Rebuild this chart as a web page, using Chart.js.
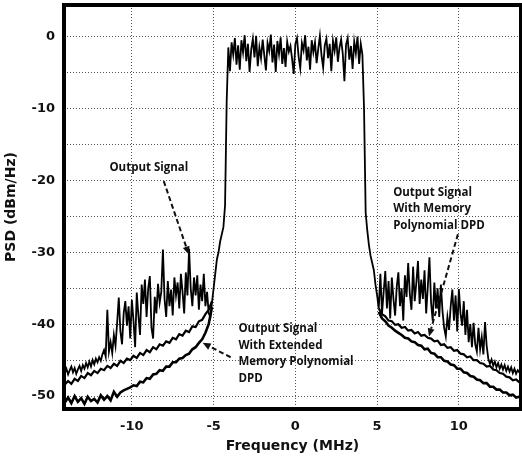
<!DOCTYPE html>
<html lang="en">
<head>
<meta charset="utf-8">
<title>PSD</title>
<script src="https://cdn.jsdelivr.net/npm/chart.js@4.4.1/dist/chart.umd.min.js"></script>
<style>
  html, body { margin: 0; padding: 0; background: #fff; }
  #wrap { width: 522px; height: 461px; position: relative; }
</style>
</head>
<body>
<div id="wrap"><canvas id="psdChart"></canvas></div>
<script>
// measured output signal, 0.1 MHz grid starting at -14.1 MHz
const mainStart = -14.1, mainStep = 0.1;
// -14.1 .. -4.5 MHz (lower adjacent channel)
const psdLeft = [
  -46.8, -46.2, -47.0, -46.4, -45.9, -46.7, -46.1, -46.9, -46.3, -45.8,
  -46.5, -45.7, -46.2, -45.4, -46.0, -45.2, -45.9, -45.0, -45.6, -44.8,
  -45.3, -44.6, -45.1, -44.2, -43.6, -44.5, -38.0, -43.8, -42.5, -44.0,
  -41.5, -43.0, -39.8, -36.3, -41.0, -42.8, -38.5, -36.8, -40.2, -37.5,
  -42.0, -36.6, -39.5, -43.2, -35.6, -38.8, -41.5, -34.5, -37.2, -33.8,
  -39.0, -35.0, -33.3, -40.5, -42.0, -36.2, -38.5, -34.4, -37.0, -35.5,
  -29.6, -36.5, -39.0, -34.0, -37.5, -35.2, -38.8, -33.5, -36.0, -34.2,
  -37.8, -33.0, -35.5, -38.5, -32.8, -36.0, -29.5, -35.0, -37.5, -33.5,
  -36.0, -33.2, -38.0, -34.5, -36.8, -33.0, -37.5, -35.5, -38.5, -39.0,
  -37.0, -35.0, -33.0, -31.0, -30.0, -28.5, -27.5
];
// -4.4 .. 4.4 MHz (channel and skirts)
const psdBand = [
  -26.5, -23.5, -9.0, -1.5,
  -4.8, -0.8, -2.5, -0.2, -3.9, -1.2, -4.6, -0.5, -2.2, 0.2,
  -3.4, -1.0, -4.9, -1.8, -0.3, -2.9, 0.1, -4.1, -1.5, -3.0,
  -0.4, -2.6, -4.7, -0.9, -2.0, 0.3, -3.6, -1.1, -4.9, -0.6,
  -2.4, -0.1, -3.8, -1.6, -4.2, -0.7, -2.1, -1.3, -3.1, -5.2,
  -1.0, -0.2, -2.8, -4.4, -0.9, -1.9, 0.2, -3.3, -1.4, -4.6,
  -0.5, -2.2, -0.8, -3.7, -1.7, 0.1, -2.6, -4.3, -1.2, -0.3,
  -3.0, -1.0, -4.8, -0.6, -2.0, -0.1, -3.5, -1.5, -0.4, -2.4,
  -6.2, -1.1, -0.2, -3.2, -1.3, -4.5, -0.7, -2.3, 0.0, -3.8,
  -1.0, -2.5,
  -10.0, -24.5, -27.0
];
// 4.5 .. 13.7 MHz (upper adjacent channel)
const psdRight = [
  -29.0, -30.5, -31.5, -32.5, -34.5, -36.0, -37.8,
  -33.0, -38.5, -35.5, -32.6, -37.8, -34.0, -39.2, -33.5, -36.5,
  -38.8, -34.8, -32.8, -37.5, -35.0, -39.5, -33.2, -36.2, -31.5, -35.8,
  -38.0, -32.0, -36.8, -34.2, -31.2, -37.2, -33.8, -36.5, -32.5, -38.5,
  -34.8, -30.7, -37.0, -39.5, -34.2, -37.8, -35.0, -39.0, -34.5, -38.2,
  -40.5, -41.7, -39.0, -40.8, -37.5, -35.2, -39.5, -36.0, -41.0, -35.1,
  -38.5, -40.2, -36.8, -41.5, -38.0, -42.5, -40.0, -43.2, -39.8, -42.8,
  -43.8, -40.5, -43.5, -41.8, -44.2, -39.7, -43.0, -44.8, -45.5, -44.9,
  -45.8, -45.2, -46.0, -45.4, -46.2, -45.6, -46.3, -45.7, -46.5, -45.9,
  -46.6, -46.0, -46.8, -46.2, -46.9, -46.4, -46.7
];

// DPD traces, 0.2 MHz grid on each side
const dpdStep = 0.2, dpdLeftStart = -14.1, dpdRightStart = 5.1;
const mpLeft = [
  -48.4, -47.9, -48.3, -47.6, -47.9, -47.2, -47.5, -46.8, -47.1, -46.5,
  -46.8, -46.2, -46.4, -45.8, -46.1, -45.5, -45.8, -45.1, -45.4, -44.8,
  -45.0, -44.4, -44.7, -44.0, -44.3, -43.6, -43.9, -43.2, -43.5, -42.8,
  -43.0, -42.4, -42.6, -41.9, -42.1, -41.4, -41.6, -40.9, -41.1, -40.3,
  -40.4, -39.6, -39.4, -38.6, -38.0, -36.8
];
const mpRight = [
  -37.8, -38.6, -38.9, -39.5, -39.6, -40.1, -40.0, -40.5, -40.4, -40.9,
  -40.8, -41.3, -41.1, -41.6, -41.5, -41.9, -42.0, -42.4, -42.3, -42.9,
  -42.8, -43.3, -43.2, -43.7, -43.6, -44.1, -44.2, -44.6, -44.5, -45.0,
  -45.0, -45.4, -45.5, -45.9, -45.8, -46.3, -46.4, -46.8, -46.9, -47.3,
  -47.4, -47.8, -47.7, -48.1
];
const extLeft = [
  -50.9, -50.2, -51.0, -50.0, -50.8, -50.3, -51.1, -50.1, -50.7, -50.4,
  -50.9, -49.9, -50.5, -50.0, -50.6, -49.4, -50.1, -49.5, -49.2, -49.0,
  -48.8, -48.5, -48.6, -48.0, -48.1, -47.5, -47.6, -47.0, -46.9, -46.4,
  -46.5, -45.9, -45.9, -45.3, -45.3, -44.8, -44.7, -44.3, -44.1, -43.5,
  -43.2, -42.6, -42.1, -41.2, -40.0, -37.6
];
const extRight = [
  -38.3, -39.2, -39.6, -40.2, -40.5, -40.9, -41.2, -41.5, -41.9, -42.0,
  -42.4, -42.5, -42.9, -43.0, -43.5, -43.4, -44.0, -44.1, -44.6, -44.6,
  -45.1, -45.2, -45.6, -45.7, -46.2, -46.2, -46.7, -46.8, -47.2, -47.3,
  -47.7, -47.8, -48.2, -48.2, -48.7, -48.7, -49.1, -49.1, -49.5, -49.5,
  -49.9, -49.8, -50.2, -50.1
];

const xTicks = [-10, -5, 0, 5, 10];
const yTicks = [-50, -45, -40, -35, -30, -25, -20, -15, -10, -5, 0];

// annotation labels, anchored in data units
const notes = [
  { lines: ['Output Signal'], f: -8.96, v: -18.3, align: 'center', arrow: [-8.05, -20.1, -6.52, -30.3] },
  { lines: ['Output Signal', 'With Memory', 'Polynomial DPD'], f: 5.98, v: -21.7, align: 'left', arrow: [9.94, -27.5, 8.17, -41.7] },
  { lines: ['Output Signal', 'With Extended', 'Memory Polynomial', 'DPD'], f: -3.48, v: -40.7, align: 'left', arrow: [-3.96, -44.6, -5.67, -42.6] }
];

function toPoints(start, step, values) {
  return values.map((v, i) => ({ x: +(start + i * step).toFixed(2), y: v }));
}

const mainPsd = psdLeft.concat(psdBand, psdRight);

const frame = {
  id: 'frame',
  afterDatasetsDraw(chart) {
    const a = chart.chartArea, ctx = chart.ctx;
    ctx.save();
    ctx.strokeStyle = '#000';
    ctx.lineWidth = 4;
    ctx.strokeRect(a.left, a.top, a.right - a.left, a.bottom - a.top);
    ctx.restore();
  }
};

const labels = {
  id: 'labels',
  afterDraw(chart) {
    const ctx = chart.ctx, xs = chart.scales.x, ys = chart.scales.y;
    ctx.save();
    ctx.fillStyle = '#111';
    ctx.font = 'bold 11.5px "Open Sans"';
    ctx.textBaseline = 'middle';
    notes.forEach(n => {
      ctx.textAlign = n.align;
      const x = xs.getPixelForValue(n.f);
      let y = ys.getPixelForValue(n.v);
      n.lines.forEach(t => { ctx.fillText(t, x, y); y += 16.5; });

      const x1 = xs.getPixelForValue(n.arrow[0]), y1 = ys.getPixelForValue(n.arrow[1]);
      const x2 = xs.getPixelForValue(n.arrow[2]), y2 = ys.getPixelForValue(n.arrow[3]);
      const ang = Math.atan2(y2 - y1, x2 - x1);
      const head = 8;
      ctx.strokeStyle = '#111';
      ctx.lineWidth = 2;
      ctx.setLineDash([5, 3]);
      ctx.beginPath();
      ctx.moveTo(x1, y1);
      ctx.lineTo(x2 - head * Math.cos(ang), y2 - head * Math.sin(ang));
      ctx.stroke();
      ctx.setLineDash([]);
      ctx.beginPath();
      ctx.moveTo(x2, y2);
      ctx.lineTo(x2 - head * Math.cos(ang) + 3.5 * Math.sin(ang), y2 - head * Math.sin(ang) - 3.5 * Math.cos(ang));
      ctx.lineTo(x2 - head * Math.cos(ang) - 3.5 * Math.sin(ang), y2 - head * Math.sin(ang) + 3.5 * Math.cos(ang));
      ctx.closePath();
      ctx.fill();
    });
    ctx.restore();
  }
};

const lineStyle = { borderColor: '#000', pointRadius: 0, tension: 0, fill: false };

new Chart(document.getElementById('psdChart'), {
  type: 'line',
  data: {
    datasets: [
      Object.assign({ label: 'Ext DPD left', data: toPoints(dpdLeftStart, dpdStep, extLeft), borderWidth: 2.6 }, lineStyle),
      Object.assign({ label: 'Ext DPD right', data: toPoints(dpdRightStart, dpdStep, extRight), borderWidth: 2.6 }, lineStyle),
      Object.assign({ label: 'MP DPD left', data: toPoints(dpdLeftStart, dpdStep, mpLeft), borderWidth: 2.2 }, lineStyle),
      Object.assign({ label: 'MP DPD right', data: toPoints(dpdRightStart, dpdStep, mpRight), borderWidth: 2.2 }, lineStyle),
      Object.assign({ label: 'Output Signal', data: toPoints(mainStart, mainStep, mainPsd), borderWidth: 1.8 }, lineStyle)
    ]
  },
  options: {
    responsive: true,
    maintainAspectRatio: false,
    animation: false,
    layout: { padding: { top: 5, right: 1, left: 0, bottom: 0 } },
    plugins: { legend: { display: false }, tooltip: { enabled: false } },
    scales: {
      x: {
        type: 'linear',
        min: -14.15,
        max: 13.8,
        afterBuildTicks(scale) { scale.ticks = xTicks.map(v => ({ value: v })); },
        afterFit(scale) { scale.height = 52; scale.paddingLeft = 0; scale.paddingRight = 0; },
        grid: { color: '#555', lineWidth: 1, drawTicks: false },
        border: { display: false, dash: [1, 2] },
        ticks: { padding: 10, color: '#111', font: { family: 'DejaVu Sans', size: 13, weight: 'bold' } },
        title: { display: true, text: 'Frequency (MHz)', color: '#111', padding: { top: 0, bottom: 6 },
                 font: { family: 'DejaVu Sans', size: 14, weight: 'bold' } }
      },
      y: {
        min: -51.8,
        max: 4.4,
        afterBuildTicks(scale) { scale.ticks = yTicks.map(v => ({ value: v })); },
        afterFit(scale) { scale.width = 64; scale.paddingTop = 0; scale.paddingBottom = 0; },
        grid: { color: '#555', lineWidth: 1, drawTicks: false },
        border: { display: false, dash: [1, 2] },
        ticks: { padding: 9, color: '#111', font: { family: 'DejaVu Sans', size: 13, weight: 'bold' },
                 callback: v => (v % 10 === 0 ? v : '') },
        title: { display: true, text: 'PSD (dBm/Hz)', color: '#111', padding: { top: 3, bottom: 0 },
                 font: { family: 'DejaVu Sans', size: 14, weight: 'bold' } }
      }
    }
  },
  plugins: [frame, labels]
});
</script>
</body>
</html>
